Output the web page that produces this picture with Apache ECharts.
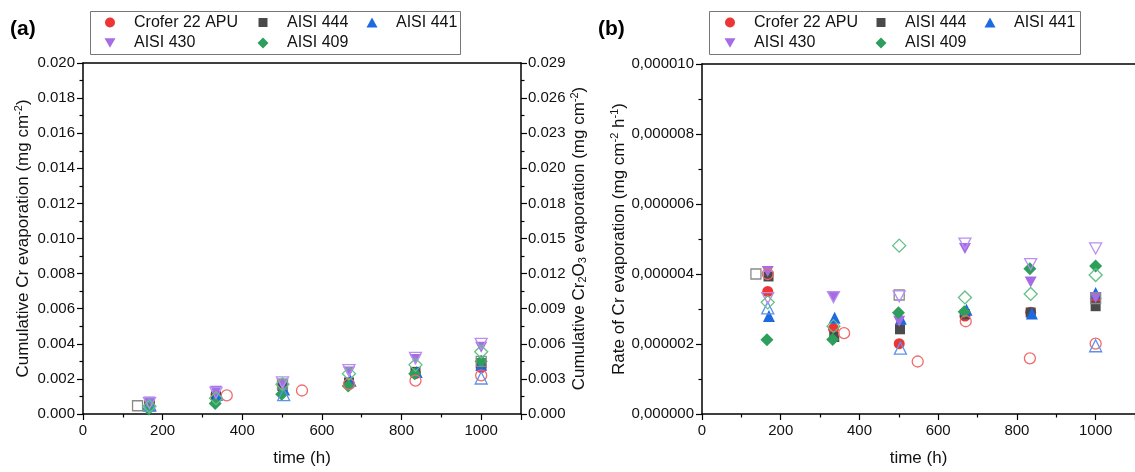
<!DOCTYPE html>
<html>
<head>
<meta charset="utf-8">
<script src="https://cdn.jsdelivr.net/npm/echarts@6/dist/echarts.min.js"></script>
<style>
html,body{margin:0;padding:0;background:#fff;}
#c{width:1135px;height:472px;}
</style>
</head>
<body>
<div id="c"></div>
<script>
// ---------- DATA ----------
const seriesNames = ['Crofer 22 APU', 'AISI 444', 'AISI 441', 'AISI 430', 'AISI 409'];

// Panel (a): cumulative Cr evaporation (mg cm^-2), filled markers
const aCrofer = [[167,0.00065],[334,0.00110],[501,0.00150],[668,0.00170],[835,0.00230],[1000,0.00265]];
const a444    = [[167,0.00060],[334,0.00100],[501,0.00160],[668,0.00180],[835,0.00240],[1000,0.00290]];
const a441    = [[170,0.00050],[337,0.00110],[505,0.00140],[672,0.00190],[838,0.00240],[1000,0.00280]];
const a430    = [[167,0.00068],[334,0.00130],[501,0.00170],[668,0.00240],[835,0.00310],[1000,0.00380]];
const a409    = [[165,0.00028],[332,0.00060],[499,0.00113],[666,0.00160],[833,0.00230],[1000,0.00300]];
// Panel (a): open markers
const aCroferO = [[361,0.00106],[550,0.00134],[668,0.00170],[835,0.00190],[1000,0.00220]];
const a444O    = [[137,0.00047],[501,0.00170],[1000,0.00300]];
const a441O    = [[167,0.00050],[504,0.00110],[1000,0.00205]];
const a430O    = [[167,0.00062],[334,0.00120],[501,0.00180],[668,0.00250],[835,0.00320],[1000,0.00400]];
const a409O    = [[167,0.00044],[334,0.00090],[501,0.00170],[668,0.00230],[835,0.00280],[1000,0.00355]];

// Panel (b): rate of Cr evaporation (mg cm^-2 h^-1), filled markers
const bCrofer = [[167,3.50e-6],[334,2.44e-6],[501,2.01e-6],[668,2.80e-6],[835,2.91e-6],[1000,3.30e-6]];
const b444    = [[169,3.93e-6],[336,2.20e-6],[503,2.42e-6],[668,2.85e-6],[835,2.90e-6],[1000,3.08e-6]];
const b441    = [[170,2.80e-6],[337,2.75e-6],[505,2.72e-6],[672,2.98e-6],[838,2.87e-6],[1000,3.46e-6]];
const b430    = [[167,4.07e-6],[334,3.35e-6],[501,2.65e-6],[668,4.73e-6],[835,3.77e-6],[1000,3.33e-6]];
const b409    = [[165,2.12e-6],[332,2.13e-6],[499,2.89e-6],[666,2.92e-6],[833,4.15e-6],[1000,4.23e-6]];
// Panel (b): open markers
const bCroferO = [[167,4.00e-6],[361,2.31e-6],[548,1.50e-6],[670,2.65e-6],[833,1.59e-6],[1000,2.01e-6]];
const b444O    = [[137,4.00e-6],[501,3.40e-6],[1000,3.30e-6]];
const b441O    = [[167,3.03e-6],[504,1.88e-6],[1000,1.95e-6]];
const b430O    = [[167,3.31e-6],[334,3.34e-6],[501,3.36e-6],[668,4.87e-6],[835,4.28e-6],[1000,4.73e-6]];
const b409O    = [[167,3.19e-6],[334,2.51e-6],[501,4.81e-6],[668,3.33e-6],[835,3.43e-6],[1000,3.97e-6]];

// Tick labels
const xTicks = ['0','200','400','600','800','1000'];
const aLeftTicks  = ['0.000','0.002','0.004','0.006','0.008','0.010','0.012','0.014','0.016','0.018','0.020'];
const aRightTicks = ['0.000','0.003','0.006','0.009','0.012','0.015','0.018','0.020','0.023','0.026','0.029'];
const bTicks = ['0,000000','0,000002','0,000004','0,000006','0,000008','0,000010'];

// ---------- STYLE ----------
const FONT = 'Liberation Sans, Arial, sans-serif';
const colors = ['#ee3535', '#4a4a4a', '#1c69e0', '#a66ce4', '#2e9e5c'];
const openColors = ['#f26a6a', '#8a8a8a', '#5e92ea', '#b88ff0', '#62c087'];
const triDown = 'path://M0,0L10,0L5,8.66Z';
const symbols = ['circle', 'rect', 'triangle', triDown, 'diamond'];
const sizes = [11, 10, 12, [12, 11], 13];

const chart = echarts.init(document.getElementById('c'), null, {renderer: 'canvas'});

function mkFilled(name, data, i, xi, yi) {
  return {
    type: 'scatter', name: name, data: data, xAxisIndex: xi, yAxisIndex: yi,
    symbol: symbols[i], symbolSize: sizes[i],
    itemStyle: {color: colors[i], opacity: 1}, z: 3, animation: false
  };
}
function mkOpen(name, data, i, xi, yi) {
  return {
    type: 'scatter', name: name + ' (open)', data: data, xAxisIndex: xi, yAxisIndex: yi,
    symbol: symbols[i], symbolSize: sizes[i],
    itemStyle: {color: 'rgba(255,255,255,0)', borderColor: openColors[i], borderWidth: 1.3, opacity: 1},
    z: 4, animation: false
  };
}

const aFilled = [aCrofer, a444, a441, a430, a409];
const aOpen = [aCroferO, a444O, a441O, a430O, a409O];
const bFilled = [bCrofer, b444, b441, b430, b409];
const bOpen = [bCroferO, b444O, b441O, b430O, b409O];

const series = [];
seriesNames.forEach((n, i) => series.push(mkFilled(n, aFilled[i], i, 0, 0)));
seriesNames.forEach((n, i) => series.push(mkOpen(n, aOpen[i], i, 0, 0)));
seriesNames.forEach((n, i) => series.push(mkFilled(n, bFilled[i], i, 2, 2)));
seriesNames.forEach((n, i) => series.push(mkOpen(n, bOpen[i], i, 2, 2)));

const axLine = {show: true, onZero: false, lineStyle: {color: '#000', width: 1.5}};
const tickStyle = {show: true, inside: false, length: 6, lineStyle: {color: '#000', width: 1.2}};
const minorStyle = {show: true, splitNumber: 2, length: 3.5, lineStyle: {color: '#000', width: 1.2}};
const labelStyle = {fontFamily: FONT, fontSize: 15, color: '#111'};

function xAxisMain(gi, max) {
  return {
    type: 'value', gridIndex: gi, min: 0, max: max, interval: 200, position: 'bottom',
    name: 'time (h)', nameLocation: 'middle', nameGap: 36,
    nameTextStyle: {fontFamily: FONT, fontSize: 17, color: '#111'},
    axisLine: axLine, axisTick: tickStyle, minorTick: minorStyle,
    splitLine: {show: false}, minorSplitLine: {show: false},
    axisLabel: Object.assign({margin: 9, showMaxLabel: false,
      formatter: v => { const k = Math.round(v / 200); return (Math.abs(v - k * 200) < 1e-6 && k < xTicks.length) ? xTicks[k] : ''; }}, labelStyle)
  };
}
function xAxisTop(gi, max) {
  return {
    type: 'value', gridIndex: gi, min: 0, max: max, interval: 200, position: 'top',
    axisLine: axLine, axisTick: {show: false}, axisLabel: {show: false}, splitLine: {show: false}
  };
}

const option = {
  backgroundColor: '#fff',
  animation: false,
  grid: [
    {left: 83, right: 614, top: 63, bottom: 56},
    {left: 702, right: -4, top: 64, bottom: 55}
  ],
  xAxis: [xAxisMain(0, 1100), xAxisTop(0, 1100), xAxisMain(1, 1100), xAxisTop(1, 1100)],
  yAxis: [
    {
      type: 'value', gridIndex: 0, min: 0, max: 0.020, interval: 0.002, position: 'left',
      name: '{t|Cumulative Cr evaporation (mg cm}{s|-2}{t|)}', nameLocation: 'middle', nameGap: 50,
      nameTextStyle: {rich: {
        t: {fontFamily: FONT, fontSize: 17, color: '#111'},
        s: {fontFamily: FONT, fontSize: 11, color: '#111', padding: [0, 0, 9, 0]}
      }},
      axisLine: axLine, axisTick: tickStyle, minorTick: minorStyle, splitLine: {show: false},
      axisLabel: Object.assign({margin: 8, formatter: (v, i) => aLeftTicks[Math.round(v / 0.002)] || ''}, labelStyle)
    },
    {
      type: 'value', gridIndex: 0, min: 0, max: 0.020, interval: 0.002, position: 'right',
      name: '{t|Cumulative Cr}{b|2}{t|O}{b|3}{t| evaporation (mg cm}{s|-2}{t|)}', nameLocation: 'middle', nameGap: 48,
      nameTextStyle: {rich: {
        t: {fontFamily: FONT, fontSize: 17, color: '#111'},
        s: {fontFamily: FONT, fontSize: 11, color: '#111', padding: [0, 0, 9, 0]},
        b: {fontFamily: FONT, fontSize: 11, color: '#111', padding: [7, 0, 0, 0]}
      }},
      axisLine: axLine, axisTick: tickStyle, minorTick: minorStyle, splitLine: {show: false},
      axisLabel: Object.assign({margin: 7, formatter: (v, i) => aRightTicks[Math.round(v / 0.002)] || ''}, labelStyle)
    },
    {
      type: 'value', gridIndex: 1, min: 0, max: 10e-6, interval: 2e-6, position: 'left',
      name: '{t|Rate of Cr evaporation (mg cm}{s|-2}{t| h}{s|-1}{t|)}', nameLocation: 'middle', nameGap: 73,
      nameTextStyle: {rich: {
        t: {fontFamily: FONT, fontSize: 17, color: '#111'},
        s: {fontFamily: FONT, fontSize: 11, color: '#111', padding: [0, 0, 9, 0]}
      }},
      axisLine: axLine, axisTick: tickStyle, minorTick: minorStyle, splitLine: {show: false},
      axisLabel: Object.assign({margin: 8, formatter: (v, i) => bTicks[Math.round(v / 2e-6)] || ''}, labelStyle)
    }
  ],
  legend: [],
  graphic: [
    {type: 'text', left: 10, top: 19, style: {text: '(a)', fontFamily: FONT, fontSize: 21, fontWeight: 'bold', fill: '#000'}},
    {type: 'text', left: 598, top: 19, style: {text: '(b)', fontFamily: FONT, fontSize: 21, fontWeight: 'bold', fill: '#000'}},
    {type: 'rect', shape: {x: 90.5, y: 11.5, width: 370, height: 43}, style: {fill: '#fff', stroke: '#777', lineWidth: 1}, z: 10},
    {type: 'rect', shape: {x: 709.5, y: 11.5, width: 371, height: 43}, style: {fill: '#fff', stroke: '#777', lineWidth: 1}, z: 10}
  ],
  series: series
};

// Legend items placed individually (two panels share identical legends)
const legendPos = [[0, 0], [1, 0], [2, 0], [0, 1], [1, 1]];
const colMarkerA = [110, 263, 372];
const colMarkerB = [730, 881, 990];
const rowY = [22.5, 43];
const legendIconSize = [[10, 10], [9, 9], [11, 10], [11, 10], [11, 11]];
function addLegend(cols, i) {
  const p = legendPos[i];
  const w = legendIconSize[i][0], h = legendIconSize[i][1];
  option.legend.push({
    data: [{name: seriesNames[i], icon: symbols[i], itemStyle: {color: colors[i], borderWidth: 0}}],
    left: cols[p[0]] - w / 2, top: rowY[p[1]] - 10,
    itemWidth: w, itemHeight: h, padding: 0, z: 20,
    selectedMode: false,
    textStyle: {fontFamily: FONT, fontSize: 16, color: '#111', padding: [0, 0, 0, 19 - w / 2], lineHeight: 20},
    itemGap: 0
  });
}
for (let i = 0; i < 5; i++) { addLegend(colMarkerA, i); addLegend(colMarkerB, i); }

chart.setOption(option);
</script>
</body>
</html>
